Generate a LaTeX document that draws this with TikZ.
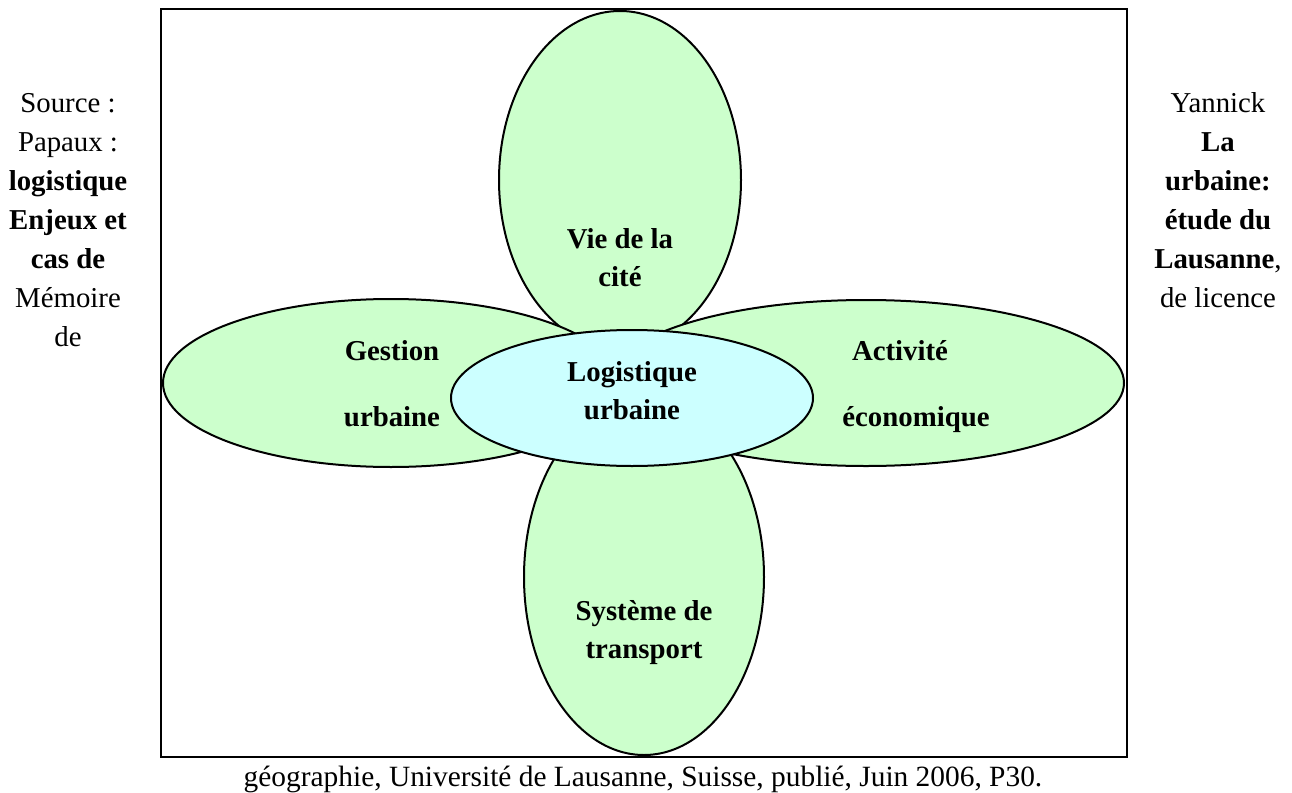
\documentclass[tikz,border=0pt]{standalone}
\usepackage{fontspec}
\setmainfont{Liberation Serif}
\usetikzlibrary{shapes.geometric}
\definecolor{petalgreen}{HTML}{CCFFCC}
\definecolor{corecyan}{HTML}{CCFFFF}
\tikzset{
  petal/.style={ellipse, draw, line width=1pt, fill=petalgreen, inner sep=0pt},
  core/.style={petal, fill=corecyan},
  lbl/.style={font=\bfseries\fontsize{14.4}{19}\selectfont, align=center, anchor=base, inner sep=0pt},
  side/.style={font=\fontsize{14.4}{19.5}\selectfont, align=center, anchor=base, inner sep=0pt}
}

\begin{document}
\begin{tikzpicture}[x=0.5pt,y=-0.5pt]
  \useasboundingbox (0,0) rectangle (1292,793);
  \draw [line width=1.3pt] (161,9) rectangle (1127,757);

  % the four petals, then the heart on top
  \node [petal, minimum width=121pt, minimum height=169pt] (vie) at (620,180) {};
  \node [petal, minimum width=120pt, minimum height=178pt] (transport) at (644,577) {};
  \node [petal, minimum width=228pt, minimum height=84pt] (gestion) at (391,383) {};
  \node [petal, minimum width=258pt, minimum height=83pt] (activite) at (866,383) {};
  \node [core, minimum width=181pt, minimum height=68pt] (logistique) at (632,398) {};

  % base = last line of each label
  \node [lbl] (vietxt) at (620,286) {Vie de la\\cité};
  \node [lbl] (gestiontxt) at (392,360) {Gestion};
  \node [lbl] (urbainetxt) at (392,426) {urbaine};
  \node [lbl] (activitetxt) at (900,360) {Activité};
  \node [lbl] (economietxt) at (916,426) {économique};
  \node [lbl] (logistiquetxt) at (632,419) {Logistique\\urbaine};
  \node [lbl] (transporttxt) at (644,658) {Système de\\transport};

  % source text, cut by the frame
  \node [side] (srcleft) at (68,346) {Source :\\Papaux :\\\textbf{logistique}\\\textbf{Enjeux et}\\\textbf{cas de}\\Mémoire\\de};
  \node [side] (srcright) at (1218,307) {Yannick\\\textbf{La}\\\textbf{urbaine:}\\\textbf{étude du}\\\textbf{Lausanne},\\de licence};
  \node [side, font=\fontsize{14.7}{19.5}\selectfont] (srcbottom) at (643,786) {géographie, Université de Lausanne, Suisse, publié, Juin 2006, P30.};
\end{tikzpicture}
\end{document}
